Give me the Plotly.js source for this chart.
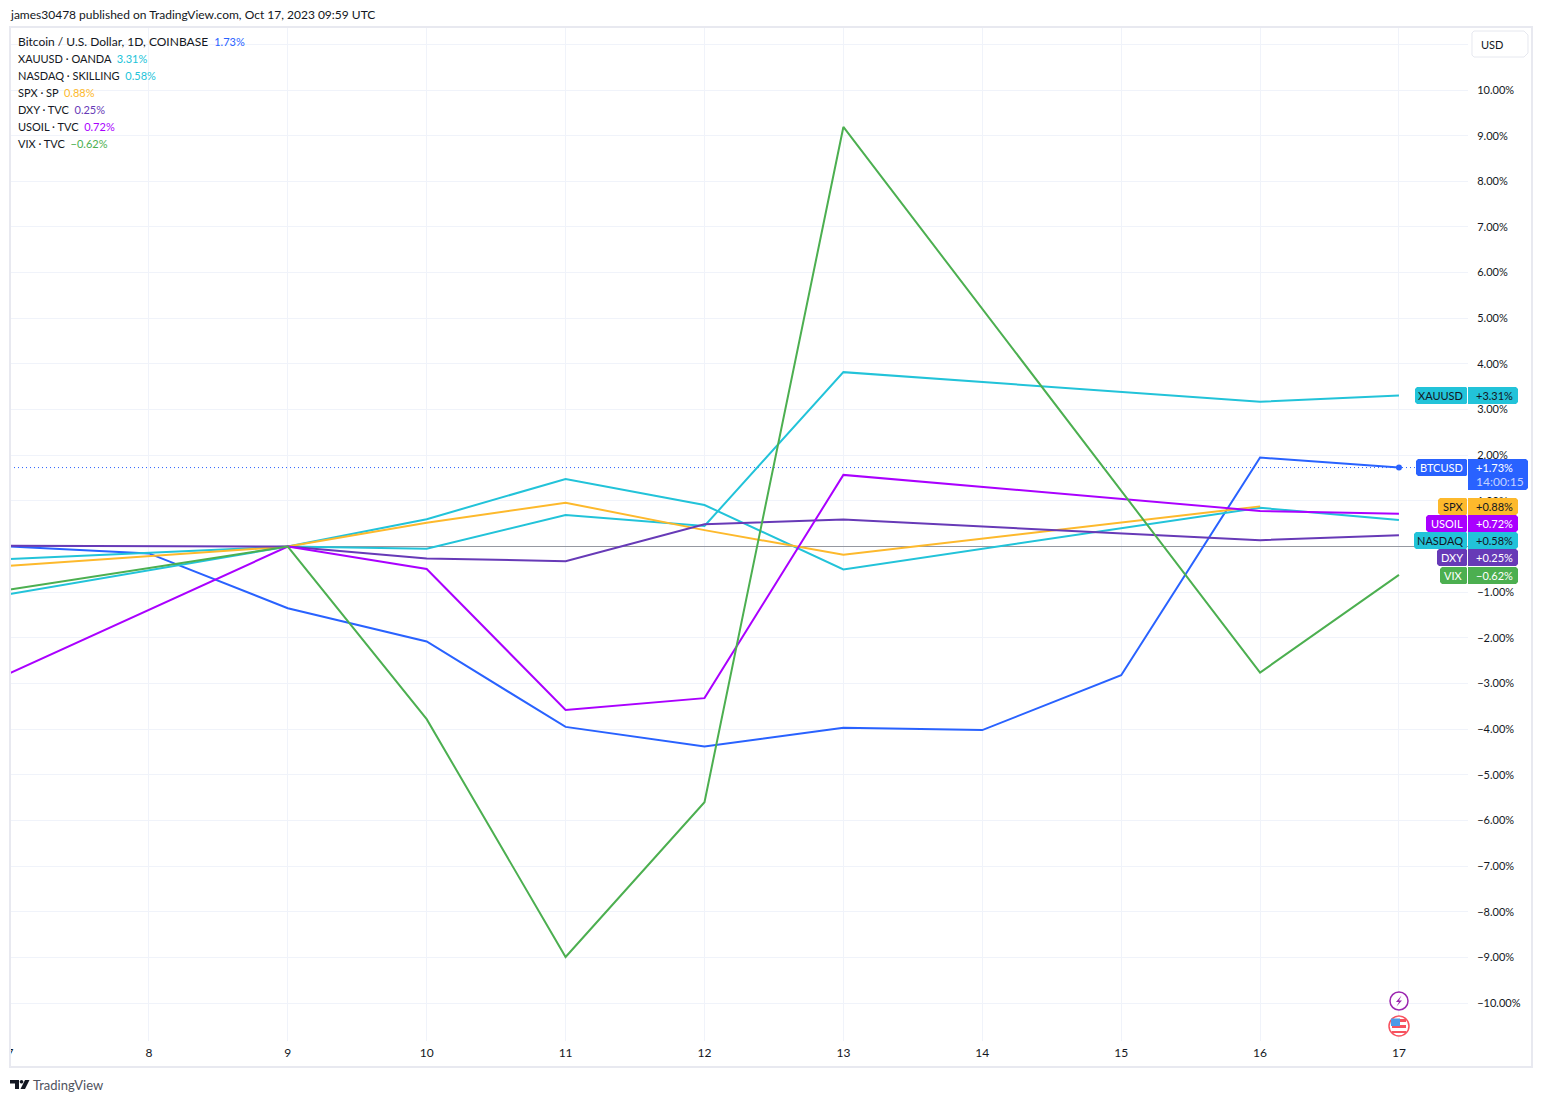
<!DOCTYPE html>
<html><head><meta charset="utf-8">
<script src="https://cdn.plot.ly/plotly-3.0.1.min.js"></script>
<style>html,body{margin:0;padding:0;background:#fff}#c{width:1542px;height:1102px}</style>
</head><body><div id="c"></div>
<script>
const days = [7,8,9,10,11,12,13,14,15,16,17];
const btc    = [0.00,-0.15,-1.35,-2.08,-3.95,-4.38,-3.97,-4.02,-2.82,1.95,1.73];
const xauusd = [-1.04,null,0,-0.05,0.69,0.45,3.82,null,null,3.17,3.31];
const nasdaq = [-0.27,null,0,0.60,1.48,0.91,-0.50,null,null,0.85,0.58];
const spx    = [-0.42,null,0,0.52,0.96,0.36,-0.18,null,null,0.88,null];
const dxy    = [0.02,null,0,-0.26,-0.32,0.49,0.59,null,null,0.14,0.25];
const usoil  = [-2.77,null,0,-0.49,-3.58,-3.32,1.57,null,null,0.78,0.72];
const vix    = [-0.94,null,0,-3.78,-8.99,-5.60,9.19,null,null,-2.76,-0.62];

const seriesNames = ['BTCUSD','XAUUSD','NASDAQ','SPX','DXY','USOIL','VIX'];
const seriesValues = [btc,xauusd,nasdaq,spx,dxy,usoil,vix];
const seriesColors = ['#2962ff','#22c3d9','#22c3d9','#fdb92c','#673ab7','#aa00ff','#4caf50'];
const legendNames = ['Bitcoin / U.S. Dollar, 1D, COINBASE','XAUUSD · OANDA','NASDAQ · SKILLING','SPX · SP','DXY · TVC','USOIL · TVC','VIX · TVC'];
const legendValues = ['1.73%','3.31%','0.58%','0.88%','0.25%','0.72%','−0.62%'];
const tagValues = ['+1.73%','+3.31%','+0.58%','+0.88%','+0.25%','+0.72%','−0.62%'];
const tagTextColors = ['#fff','#131722','#131722','#131722','#fff','#fff','#fff'];
const yTickVals = [-10,-9,-8,-7,-6,-5,-4,-3,-2,-1,0,1,2,3,4,5,6,7,8,9,10,11];

const FONT = 'Lato, sans-serif';
const L=10,R=1468,T=27,B=1041;
const fx=p=>(p-L)/(R-L), fy=p=>(B-p)/(B-T);
const pathOf=d=>d.replace(/(-?[\d.]+),(-?[\d.]+)/g,(m,a,b)=>fx(+a).toFixed(6)+','+fy(+b).toFixed(6));
const shapeP=(d,fill,line,w)=>({type:'path',xref:'paper',yref:'paper',path:pathOf(d),fillcolor:fill||'rgba(0,0,0,0)',line:{color:line||'rgba(0,0,0,0)',width:w||0},layer:'above'});
const rr=(x0,y0,x1,y1,l,r)=>{r=r||2;l=l===undefined?true:l;
  return `M${x0+(l?2:0)},${y0} L${x1-r},${y0} L${x1},${y0+r} L${x1},${y1-r} L${x1-r},${y1} L${x0+(l?2:0)},${y1} L${x0},${y1-(l?2:0)} L${x0},${y0+(l?2:0)} Z`;};
const circ=(cx,cy,r)=>{const k=r*0.5523;return `M${cx-r},${cy} C${cx-r},${cy-k} ${cx-k},${cy-r} ${cx},${cy-r} C${cx+k},${cy-r} ${cx+r},${cy-k} ${cx+r},${cy} C${cx+r},${cy+k} ${cx+k},${cy+r} ${cx},${cy+r} C${cx-k},${cy+r} ${cx-r},${cy+k} ${cx-r},${cy} Z`;};
const txt=(px,py,s,o)=>Object.assign({xref:'paper',yref:'paper',x:fx(px),y:fy(py),text:s,showarrow:false,xanchor:'left',yanchor:'middle',
  font:{family:FONT,size:12,color:'#131722'},borderpad:0,borderwidth:0},o||{});

const traces = seriesNames.map((n,i)=>({type:'scatter',mode:'lines',name:n,x:days,y:seriesValues[i],connectgaps:true,
  line:{color:seriesColors[i],width:2},cliponaxis:true,hoverinfo:'skip'}));
traces.push({type:'scatter',mode:'markers',x:[days[10]],y:[btc[10]],marker:{color:seriesColors[0],size:6},hoverinfo:'skip'});

const tagBoxes=[[1416,459,476,1528],[1415,387,404,1518],[1414,532,549,1518],[1438,498,515,1518],[1437,549,566,1518],[1426,515,532,1518],[1440,567,584,1518]];
const shapes=[];
const ann=[];
shapes.push(shapeP(`M0,1030 L10,1030 L10,1067 L0,1067 Z`,'#fff'));
shapes.push({type:'rect',xref:'paper',yref:'paper',x0:fx(10),x1:fx(1532),y0:fy(1067),y1:fy(27),line:{color:'#e8e9f0',width:2},layer:'above',fillcolor:'rgba(0,0,0,0)'});
shapes.push({type:'line',xref:'x',yref:'y',x0:days[0],x1:17.12,y0:btc[10],y1:btc[10],line:{color:seriesColors[0],width:1,dash:'1px,3px'},layer:'below'});
shapes.push(shapeP(rr(1472,31,1528,57,true,4),'#fff','#e6e8ef',1));
ann.push(txt(1481,44.5,'USD',{font:{family:FONT,size:11,color:'#131722'}}));

seriesNames.forEach((n,i)=>{
  const b=tagBoxes[i], c=seriesColors[i];
  shapes.push(shapeP(rr(b[0],b[1],1467,b[2],true,1),c));
  const bot = i===0?490:b[2];
  shapes.push(shapeP(`M1468,${b[1]} L${b[3]-2},${b[1]} L${b[3]},${b[1]+2} L${b[3]},${bot-2} L${b[3]-2},${bot} L1468,${bot} Z`,c));
  const my=(b[1]+b[2])/2;
  ann.push(txt(1463,my,n,{xanchor:'right',font:{family:FONT,size:11,color:tagTextColors[i]}}));
  ann.push(txt(1476,my,tagValues[i],{font:{family:FONT,size:11,color:tagTextColors[i]}}));
});
ann.push(txt(1476,481.5,'14:00:15',{font:{family:FONT,size:12,color:'#c4d2ff'}}));

legendNames.forEach((n,i)=>{
  const sz=i===0?12:11;
  ann.push(txt(18,41.5+17*i,`${n}  <span style="color:${seriesColors[i]};font-size:11px">${legendValues[i]}</span>`,{font:{family:FONT,size:sz,color:'#131722'}}));
});
ann.push(txt(10,14.5,'james30478 published on TradingView.com, Oct 17, 2023 09:59 UTC'));
ann.push(txt(33,1084.5,'TradingView',{font:{family:FONT,size:13,color:'#50535e'}}));
shapes.push(shapeP('M10,1080 L19,1080 L19,1089 L15,1089 L15,1083.5 L10,1083.5 Z','#131722'));
shapes.push(shapeP(circ(21.5,1081.8,1.8),'#131722'));
shapes.push(shapeP('M25,1080 L29.5,1080 L25,1089 L20.5,1089 Z','#131722'));
shapes.push(shapeP(circ(1399,1001,9),'#fff','#9c27b0',1.5));
shapes.push(shapeP('M1401.5,995.5 L1396,1002 L1399,1002 L1396.5,1006.5 L1402,1000.5 L1399,1000.5 Z','#9c27b0'));
shapes.push(shapeP(circ(1399,1026,10),'#fff','#f7525f',1.5));
shapes.push(shapeP('M1392,1019 L1406,1019 L1406,1022 L1392,1022 Z','#f7525f'));
shapes.push(shapeP('M1392,1025 L1406,1025 L1406,1028 L1392,1028 Z','#f7525f'));
shapes.push(shapeP('M1392,1031 L1406,1031 L1406,1033 L1392,1033 Z','#f7525f'));
shapes.push(shapeP('M1391,1018.5 L1400,1018.5 L1400,1026 L1391,1026 Z','#4d9be8'));

const layout={width:1542,height:1102,margin:{l:L,r:1542-R,t:T,b:1102-B,pad:0},paper_bgcolor:'#fff',plot_bgcolor:'#fff',showlegend:false,
  font:{family:FONT,size:12,color:'#131722'},
  xaxis:{range:[7,17.497],tickmode:'array',tickvals:days,ticktext:days.map(String),showgrid:true,gridcolor:'#f0f3fa',gridwidth:1,zeroline:false,
    ticks:'outside',ticklen:1,tickcolor:'rgba(0,0,0,0)',showline:false,tickfont:{family:FONT,size:12,color:'#131722'}},
  yaxis:{range:[-10.83,11.38],side:'right',tickmode:'array',tickvals:yTickVals,
    ticktext:yTickVals.map(v=>(v===11||v===0)?'':(v<0?'−':'')+Math.abs(v).toFixed(2)+'%'),
    showgrid:true,gridcolor:'#f0f3fa',gridwidth:1,zeroline:true,zerolinecolor:'#9598a1',zerolinewidth:1,
    ticks:'outside',ticklen:6,tickcolor:'rgba(0,0,0,0)',showline:false,tickfont:{family:FONT,size:11,color:'#131722'}},
  shapes:shapes,annotations:ann};
Plotly.newPlot('c',traces,layout,{displayModeBar:false,staticPlot:true});
</script></body></html>
